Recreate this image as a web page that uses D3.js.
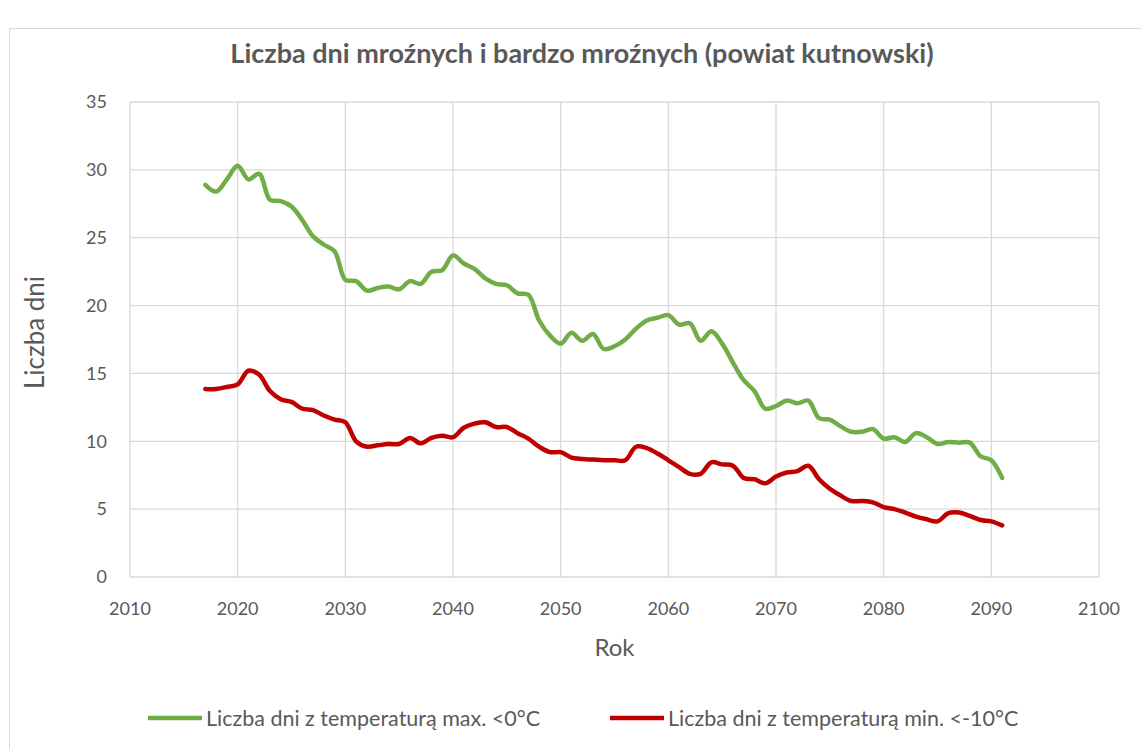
<!DOCTYPE html>
<html>
<head>
<meta charset="utf-8">
<script src="https://cdn.jsdelivr.net/npm/d3@7"></script>
<style>
  body { margin: 0; background: #fff; }
  svg { display: block; font-family: Lato, 'Open Sans', sans-serif; }
</style>
</head>
<body>
<div id="chart"></div>
<script>
const years = d3.range(2017, 2092);

const frostDays = [
  28.9, 28.4, 29.3, 30.3, 29.3, 29.7, 27.8, 27.7, 27.3, 26.3,
  25.1, 24.5, 24.0, 21.9, 21.8, 21.1, 21.3, 21.4, 21.2, 21.8,
  21.6, 22.5, 22.6, 23.7, 23.1, 22.7, 22.0, 21.6, 21.5, 20.9,
  20.8, 18.9, 17.8, 17.2, 18.0, 17.4, 17.9, 16.8, 17.0, 17.5,
  18.3, 18.9, 19.1, 19.3, 18.6, 18.7, 17.4, 18.1, 17.2, 15.8,
  14.5, 13.7, 12.4, 12.6, 13.0, 12.8, 13.0, 11.7, 11.6, 11.1,
  10.7, 10.7, 10.9, 10.2, 10.3, 9.95, 10.6, 10.3, 9.8, 9.95,
  9.9, 9.9, 8.9, 8.6, 7.3
];

const hardFrostDays = [
  13.85, 13.85, 14.0, 14.2, 15.2, 14.9, 13.7, 13.1, 12.9, 12.4,
  12.3, 11.9, 11.6, 11.4, 10.0, 9.6, 9.7, 9.8, 9.8, 10.25,
  9.85, 10.25, 10.4, 10.3, 11.0, 11.3, 11.4, 11.05, 11.05, 10.6,
  10.2, 9.6, 9.2, 9.2, 8.8, 8.7, 8.65, 8.6, 8.6, 8.6,
  9.6, 9.5, 9.1, 8.6, 8.1, 7.6, 7.6, 8.45, 8.3, 8.2,
  7.3, 7.2, 6.9, 7.4, 7.7, 7.8, 8.2, 7.2, 6.5, 6.0,
  5.6, 5.6, 5.5, 5.15, 5.0, 4.75, 4.45, 4.25, 4.1, 4.7,
  4.75, 4.5, 4.2, 4.1, 3.8
];

const seriesNames = [
  'Liczba dni z temperaturą max. <0°C',
  'Liczba dni z temperaturą min. <-10°C'
];
const xTicks = d3.range(2010, 2101, 10);
const yTicks = d3.range(0, 36, 5);

const width = 1141;
const height = 749;
const margin = {top: 102, right: 42, bottom: 172, left: 130};
const colors = ['#70AD47', '#C00000'];
const textColor = '#595959';
const gridColor = '#D9D9D9';

const x = d3.scaleLinear()
  .domain([2010, 2100])
  .range([margin.left, width - margin.right]);

const y = d3.scaleLinear()
  .domain([0, 35])
  .range([height - margin.bottom, margin.top]);

const svg = d3.select('#chart')
  .append('svg')
  .attr('width', width)
  .attr('height', height);

// chart area border
svg.append('rect')
  .attr('x', 9.5)
  .attr('y', 28.5)
  .attr('width', width)
  .attr('height', height)
  .attr('fill', 'none')
  .attr('stroke', gridColor);

// grid
svg.append('g')
  .attr('stroke', gridColor)
  .attr('stroke-width', 1.3)
  .call(g => g.selectAll('.h')
    .data(yTicks)
    .join('line')
    .attr('x1', margin.left)
    .attr('x2', width - margin.right)
    .attr('y1', d => y(d))
    .attr('y2', d => y(d)))
  .call(g => g.selectAll('.v')
    .data(xTicks)
    .join('line')
    .attr('x1', d => x(d))
    .attr('x2', d => x(d))
    .attr('y1', margin.top)
    .attr('y2', height - margin.bottom));

// tick labels
svg.append('g')
  .attr('fill', textColor)
  .style('font-size', '18px')
  .attr('text-anchor', 'end')
  .selectAll('text')
  .data(yTicks)
  .join('text')
  .attr('x', margin.left - 23)
  .attr('y', d => y(d))
  .attr('dy', '0.35em')
  .text(d => d);

svg.append('g')
  .attr('fill', textColor)
  .style('font-size', '18px')
  .attr('text-anchor', 'middle')
  .selectAll('text')
  .data(xTicks)
  .join('text')
  .attr('x', d => x(d))
  .attr('y', height - margin.bottom + 32)
  .attr('dy', '0.35em')
  .text(d => d);

// titles
svg.append('text')
  .attr('x', 582)
  .attr('y', 63)
  .attr('text-anchor', 'middle')
  .attr('fill', textColor)
  .style('font-size', '27px')
  .style('font-weight', 'bold')
  .text('Liczba dni mroźnych i bardzo mroźnych (powiat kutnowski)');

svg.append('text')
  .attr('x', (margin.left + width - margin.right) / 2)
  .attr('y', 656)
  .attr('text-anchor', 'middle')
  .attr('fill', textColor)
  .style('font-size', '24px')
  .text('Rok');

svg.append('text')
  .attr('transform', `translate(44,${(margin.top + height - margin.bottom) / 2 - 7}) rotate(-90)`)
  .attr('text-anchor', 'middle')
  .attr('fill', textColor)
  .style('font-size', '26px')
  .text('Liczba dni');

// lines
const line = d3.line()
  .x((d, i) => x(years[i]))
  .y(d => y(d))
  .curve(d3.curveCatmullRom);

svg.append('g')
  .attr('fill', 'none')
  .attr('stroke-width', 4.5)
  .attr('stroke-linejoin', 'round')
  .attr('stroke-linecap', 'round')
  .selectAll('path')
  .data([frostDays, hardFrostDays])
  .join('path')
  .attr('stroke', (d, i) => colors[i])
  .attr('d', d => line(d));

// legend
const legendX = [148, 610];
const legend = svg.append('g')
  .selectAll('g')
  .data(seriesNames)
  .join('g')
  .attr('transform', (d, i) => `translate(${legendX[i]},718)`);

legend.append('line')
  .attr('x1', 0)
  .attr('x2', 54)
  .attr('stroke', (d, i) => colors[i])
  .attr('stroke-width', 4.5);

legend.append('text')
  .attr('x', 58)
  .attr('dy', '0.35em')
  .attr('fill', textColor)
  .style('font-size', '21.5px')
  .text(d => d);
</script>
</body>
</html>
